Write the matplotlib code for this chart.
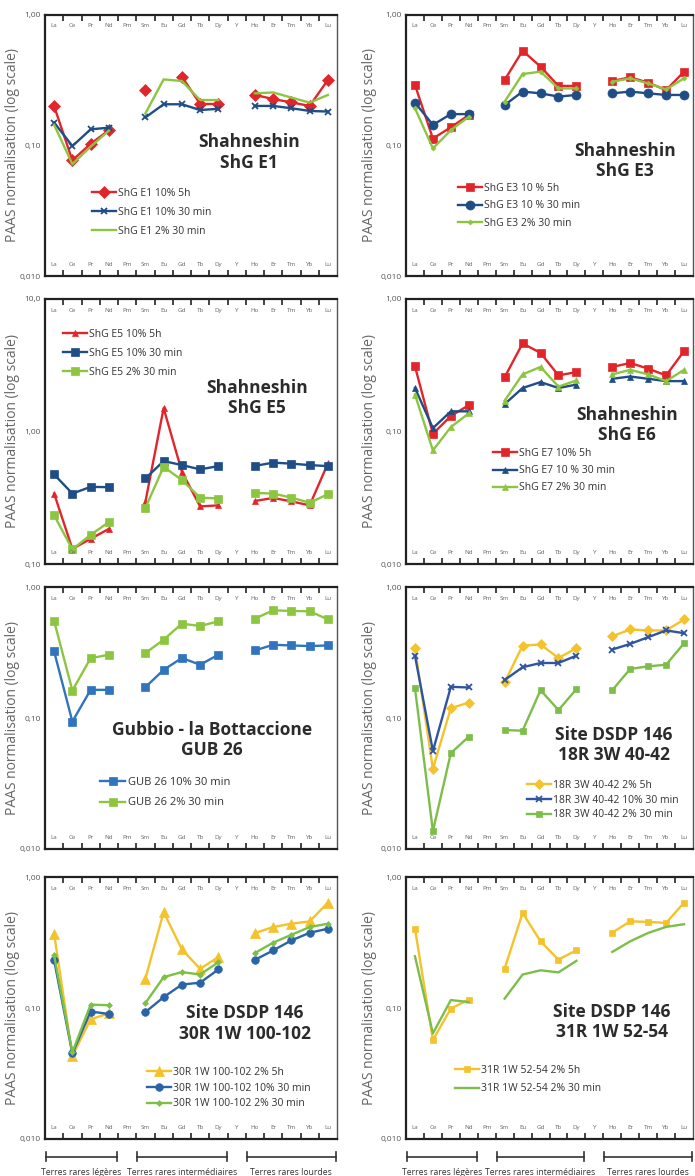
import numpy as np
import matplotlib
matplotlib.use('Agg')
import matplotlib.pyplot as plt

plt.rcParams['font.family'] = ['Open Sans', 'DejaVu Sans']

nan = np.nan
elements = ['La', 'Ce', 'Pr', 'Nd', 'Pm', 'Sm', 'Eu', 'Gd', 'Tb', 'Dy', 'Y', 'Ho', 'Er', 'Tm', 'Yb', 'Lu']

# ShG E1
e1_10_5h  = [0.200, 0.077, 0.103, 0.131, nan, 0.266, nan, 0.337, 0.208, 0.208, nan, 0.244, 0.227, 0.214, 0.201, 0.318]
e1_10_30  = [0.150, 0.099, 0.133, 0.137, nan, 0.164, 0.207, 0.207, 0.187, 0.191, nan, 0.201, 0.201, 0.193, 0.184, 0.182]
e1_2_30   = [0.144, 0.072, 0.098, 0.130, nan, 0.176, 0.321, 0.312, 0.223, 0.223, nan, 0.251, 0.255, 0.233, 0.213, 0.244]
# ShG E3
e3_10_5h  = [0.291, 0.113, 0.138, 0.171, nan, 0.318, 0.533, 0.402, 0.286, 0.286, nan, 0.312, 0.333, 0.303, 0.266, 0.368]
e3_10_30  = [0.213, 0.144, 0.174, 0.174, nan, 0.204, 0.259, 0.251, 0.237, 0.244, nan, 0.251, 0.259, 0.251, 0.244, 0.244]
e3_2_30   = [0.193, 0.095, 0.131, 0.166, nan, 0.217, 0.353, 0.368, 0.274, 0.274, nan, 0.308, 0.327, 0.299, 0.269, 0.327]
# ShG E5
e5_10_5h  = [0.340, 0.130, 0.155, 0.184, nan, 0.294, 1.500, 0.497, 0.272, 0.277, nan, 0.299, 0.315, 0.297, 0.277, 0.574]
e5_10_30  = [0.474, 0.340, 0.382, 0.380, nan, 0.442, 0.598, 0.558, 0.518, 0.548, nan, 0.550, 0.582, 0.572, 0.558, 0.548]
e5_2_30   = [0.233, 0.129, 0.166, 0.207, nan, 0.265, 0.542, 0.430, 0.317, 0.312, nan, 0.344, 0.340, 0.317, 0.290, 0.336]
# ShG E6 (E7 in legend)
e7_10_5h  = [0.310, 0.096, 0.131, 0.158, nan, 0.257, 0.462, 0.392, 0.265, 0.281, nan, 0.307, 0.329, 0.298, 0.265, 0.404]
e7_10_30  = [0.213, 0.106, 0.142, 0.142, nan, 0.161, 0.213, 0.236, 0.213, 0.226, nan, 0.250, 0.260, 0.250, 0.240, 0.240]
e7_2_30   = [0.190, 0.072, 0.108, 0.137, nan, 0.171, 0.270, 0.307, 0.218, 0.243, nan, 0.270, 0.292, 0.270, 0.240, 0.292]
# GUB 26
gub_10_30 = [0.322, 0.094, 0.164, 0.164, nan, 0.172, 0.233, 0.287, 0.255, 0.304, nan, 0.328, 0.362, 0.358, 0.354, 0.358]
gub_2_30  = [0.550, 0.162, 0.286, 0.304, nan, 0.313, 0.396, 0.525, 0.504, 0.547, nan, 0.573, 0.664, 0.656, 0.653, 0.566]
# 18R 3W 40-42
r18_2_5h  = [0.341, 0.041, 0.119, 0.131, nan, 0.187, 0.357, 0.364, 0.287, 0.341, nan, 0.421, 0.474, 0.466, 0.466, 0.565]
r18_10_30 = [0.299, 0.056, 0.173, 0.171, nan, 0.195, 0.244, 0.263, 0.263, 0.299, nan, 0.333, 0.368, 0.414, 0.466, 0.444]
r18_2_30  = [0.169, 0.0137, 0.054, 0.072, nan, 0.081, 0.080, 0.163, 0.115, 0.166, nan, 0.163, 0.237, 0.248, 0.255, 0.372]
# 30R 1W 100-102
r30_2_5h  = [0.369, 0.043, 0.082, 0.091, nan, 0.167, 0.540, 0.280, 0.199, 0.245, nan, 0.373, 0.415, 0.440, 0.458, 0.637]
r30_10_30 = [0.231, 0.045, 0.094, 0.090, nan, 0.093, 0.121, 0.151, 0.156, 0.197, nan, 0.233, 0.275, 0.328, 0.375, 0.403]
r30_2_30  = [0.252, 0.046, 0.106, 0.105, nan, 0.109, 0.172, 0.188, 0.180, 0.224, nan, 0.263, 0.315, 0.362, 0.415, 0.440]
# 31R 1W 52-54
r31_2_5h  = [0.404, 0.057, 0.099, 0.116, nan, 0.200, 0.532, 0.323, 0.234, 0.276, nan, 0.376, 0.459, 0.454, 0.446, 0.637]
r31_2_30  = [0.248, 0.064, 0.115, 0.111, nan, 0.118, 0.180, 0.194, 0.187, 0.229, nan, 0.268, 0.323, 0.374, 0.416, 0.436]

groups = ['Terres rares légères', 'Terres rares intermédiaires', 'Terres rares lourdes']
group_start = [0, 5, 11]
group_end = [3, 9, 15]

RED = '#e2252b'
NAVY = '#1f4d86'
GREEN = '#8cc540'
YELLOW = '#f3c22c'

# series: (values, label, color, marker, markersize)
panels = [
    dict(title='Shahneshin\nShG E1', tpos=(0.70, 0.473), lpos=(0.161, 0.337), lsp=0.75, fs=7.5,
         series=[(e1_10_5h, 'ShG E1 10% 5h', RED, 'D', 6.5),
                 (e1_10_30, 'ShG E1 10% 30 min', NAVY, 'x', 4.5),
                 (e1_2_30, 'ShG E1 2% 30 min', GREEN, '', 0)]),
    dict(title='Shahneshin\nShG E3', tpos=(0.763, 0.439), lpos=(0.181, 0.356), lsp=0.6, fs=7.5,
         series=[(e3_10_5h, 'ShG E3 10 % 5h', RED, 's', 5.5),
                 (e3_10_30, 'ShG E3 10 % 30 min', NAVY, 'o', 6.5),
                 (e3_2_30, 'ShG E3 2% 30 min', GREEN, 'D', 2.5)]),
    dict(title='Shahneshin\nShG E5', tpos=(0.726, 0.626), lpos=(0.062, 0.887), lsp=0.75, fs=7.5,
         series=[(e5_10_5h, 'ShG E5 10% 5h', RED, '^', 4.5),
                 (e5_10_30, 'ShG E5 10% 30 min', NAVY, 's', 5.5),
                 (e5_2_30, 'ShG E5 2% 30 min', GREEN, 's', 5.5)]),
    dict(title='Shahneshin\nShG E6', tpos=(0.770, 0.523), lpos=(0.303, 0.438), lsp=0.6, fs=7.5,
         series=[(e7_10_5h, 'ShG E7 10% 5h', RED, 's', 5.5),
                 (e7_10_30, 'ShG E7 10 % 30 min', NAVY, '^', 4.5),
                 (e7_2_30, 'ShG E7 2% 30 min', GREEN, '^', 4.5)]),
    dict(title='Gubbio - la Bottaccione\nGUB 26', tpos=(0.572, 0.416), lpos=(0.188, 0.275), lsp=0.85, fs=8,
         series=[(gub_10_30, 'GUB 26 10% 30 min', '#2f74bd', 's', 5.5),
                 (gub_2_30, 'GUB 26 2% 30 min', GREEN, 's', 5.5)]),
    dict(title='Site DSDP 146\n18R 3W 40-42', tpos=(0.725, 0.397), lpos=(0.422, 0.263), lsp=0.35, fs=7.5,
         series=[(r18_2_5h, '18R 3W 40-42 2% 5h', YELLOW, 'D', 5),
                 (r18_10_30, '18R 3W 40-42 10% 30 min', '#2f55a0', 'x', 4.5),
                 (r18_2_30, '18R 3W 40-42 2% 30 min', '#7dbe4a', 's', 4.5)]),
    dict(title='Site DSDP 146\n30R 1W 100-102', tpos=(0.685, 0.441), lpos=(0.349, 0.275), lsp=0.45, fs=7.5,
         series=[(r30_2_5h, '30R 1W 100-102 2% 5h', YELLOW, '^', 6.5),
                 (r30_10_30, '30R 1W 100-102 10% 30 min', '#2b64a6', 'o', 5.5),
                 (r30_2_30, '30R 1W 100-102 2% 30 min', '#7cc046', 'D', 3)]),
    dict(title='Site DSDP 146\n31R 1W 52-54', tpos=(0.718, 0.448), lpos=(0.171, 0.282), lsp=0.7, fs=7.5,
         series=[(r31_2_5h, '31R 1W 52-54 2% 5h', YELLOW, 's', 4.5),
                 (r31_2_30, '31R 1W 52-54 2% 30 min', '#7dbe4a', '', 0)]),
]

W, H = 695, 1176
col_left = [45, 406]
col_right = [337, 693]
row_top = [15, 299, 587, 877]
row_bot = [276, 564, 849, 1139]

fig = plt.figure(figsize=(W / 100, H / 100), dpi=100)
x = np.arange(len(elements))

for k, p in enumerate(panels):
    r, c = divmod(k, 2)
    rect = [col_left[c] / W, 1 - row_bot[r] / H,
            (col_right[c] - col_left[c]) / W, (row_bot[r] - row_top[r]) / H]
    ax = fig.add_axes(rect)
    for vals, lab, col, mk, ms in p['series']:
        ax.plot(x, vals, color=col, lw=1.7, marker=mk if mk else None, ms=ms,
                mew=1.3 if mk == 'x' else 0.5, mec=col, label=lab)
    ax.set_yscale('log')
    if k == 2:
        ax.set_ylim(0.1, 10)
        ax.set_yticks([0.1, 1, 10], ['0,10', '1,00', '10,0'])
    else:
        ax.set_ylim(0.01, 1)
        ax.set_yticks([0.01, 0.1, 1], ['0,010', '0,10', '1,00'])
    ax.minorticks_off()
    ax.tick_params(axis='y', length=0, pad=3, labelsize=6, labelcolor='#555555')
    ax.set_xlim(-0.5, 15.5)
    ax.set_xticks(x[:-1] + 0.5)
    ax.tick_params(axis='x', direction='in', length=4, width=1.2, top=True, bottom=True,
                   labelbottom=False, color='#222222')
    for s in ['left', 'bottom', 'top']:
        ax.spines[s].set_linewidth(1.6)
        ax.spines[s].set_color('#222222')
    ax.spines['right'].set_linewidth(1.0)
    ax.spines['right'].set_color('#555555')
    tr = ax.get_xaxis_transform()
    for i, el in enumerate(elements):
        ax.text(i, 0.958, el, transform=tr, ha='center', va='center', fontsize=4.5, color='#666666')
        ax.text(i, 0.043, el, transform=tr, ha='center', va='center', fontsize=4.5, color='#666666')
    ax.set_ylabel('PAAS normalisation (log scale)', fontsize=10, color='#666666')
    ax.yaxis.set_label_coords(-0.086 if c == 0 else -0.101, 0.5)
    ax.text(p['tpos'][0], p['tpos'][1], p['title'], transform=ax.transAxes, ha='center', va='center',
            fontsize=12.5, fontweight='bold', color='#2b2b2b', linespacing=1.15)
    ax.legend(loc='upper left', bbox_to_anchor=p['lpos'], frameon=False, fontsize=p['fs'],
              borderpad=0, borderaxespad=0, handlelength=2.3, handletextpad=0.2,
              labelspacing=p['lsp'], labelcolor='#333333')
    if r == 3:
        for g, a, b in zip(groups, group_start, group_end):
            x0, x1 = a - 0.45, b + 0.45
            ax.plot([x0, x1], [-0.068, -0.068], transform=tr, color='#333333', lw=1.2, clip_on=False)
            ax.plot([x0, x0], [-0.085, -0.051], transform=tr, color='#333333', lw=1.2, clip_on=False)
            ax.plot([x1, x1], [-0.085, -0.051], transform=tr, color='#333333', lw=1.2, clip_on=False)
            ax.text((x0 + x1) / 2, -0.128, g, transform=tr, ha='center', va='center',
                    fontsize=6.2, color='#333333')

fig.savefig('out.png', dpi=100)
